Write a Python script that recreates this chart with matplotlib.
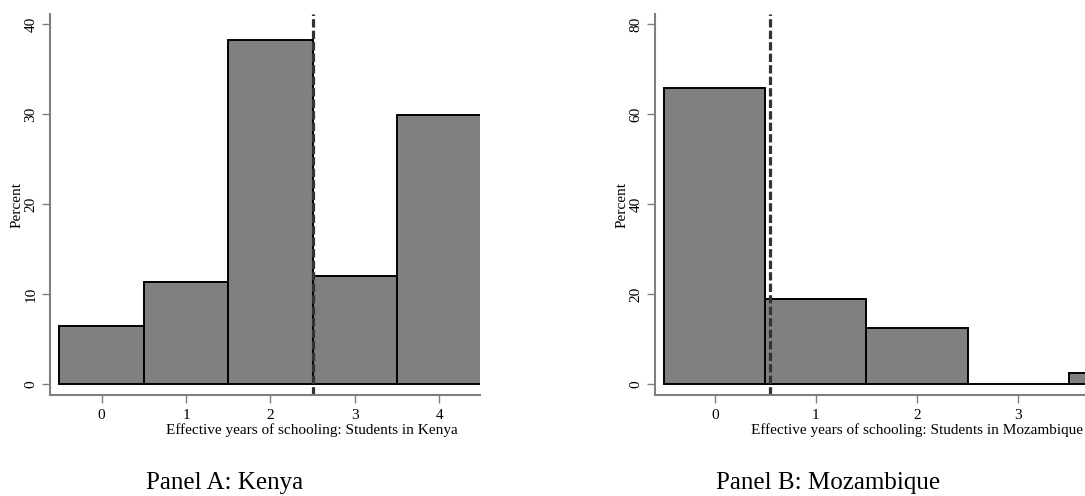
import matplotlib
matplotlib.use("Agg")
import matplotlib.pyplot as plt

plt.rcParams["font.family"] = ["Liberation Serif", "DejaVu Serif"]

years = [0, 1, 2, 3, 4]

kenya_pct = [6.5, 11.4, 38.2, 12.0, 29.9]
kenya_mean = 2.5
kenya_ticks = [0, 10, 20, 30, 40]

moz_pct = [65.8, 19.0, 12.5, 0.0, 2.4]
moz_mean = 0.55
moz_ticks = [0, 20, 40, 60, 80]

W, H = 1085, 496
fig = plt.figure(figsize=(W / 100, H / 100), dpi=100)

panels = [
    # data, mean line, yticks, xlim, ylim, axes box (px), xlabel, title
    (kenya_pct, kenya_mean, kenya_ticks, (-0.61, 4.48), (-1.19, 41.1),
     (50, 480), "Effective years of schooling: Students in Kenya", 312,
     "Panel A: Kenya", 225),
    (moz_pct, moz_mean, moz_ticks, (-0.59, 3.66), (-2.38, 82.3),
     (655, 1085), "Effective years of schooling: Students in Mozambique", 917,
     "Panel B: Mozambique", 828),
]

for pct, mean, yt, xl, yl, (x0, x1), xlab, xlab_x, title, title_x in panels:
    ax = fig.add_axes([x0 / W, 1 - 395 / H, (x1 - x0) / W, (395 - 14) / H])
    ax.bar(years, pct, width=1.0, color="#808080", edgecolor="black", linewidth=1.4)
    ax.axvline(mean, color="#333333", linewidth=2.3, dashes=(2.6, 1.0))
    ax.set_xlim(*xl)
    ax.set_ylim(*yl)
    ax.set_yticks(yt)
    ax.set_xticks(years[: int(xl[1]) + 1])
    for s in ["top", "right"]:
        ax.spines[s].set_visible(False)
    for s in ["left", "bottom"]:
        ax.spines[s].set_color("#7f7f7f")
        ax.spines[s].set_linewidth(1.5)
    ax.tick_params(colors="#7f7f7f", width=1.0, length=6, labelcolor="black", labelsize=11)
    ax.tick_params(axis="y", labelrotation=90, pad=3)
    ax.tick_params(axis="x", pad=4)
    for lab in ax.get_yticklabels():
        lab.set_va("center")
    ax.set_ylabel("Percent", fontsize=11, labelpad=1)
    fig.text(xlab_x / W, 1 - 434 / H, xlab, ha="center", va="baseline", fontsize=11)
    fig.text(title_x / W, 1 - 489 / H, title, ha="center", va="baseline", fontsize=18)

fig.savefig("out.png", dpi=100)
